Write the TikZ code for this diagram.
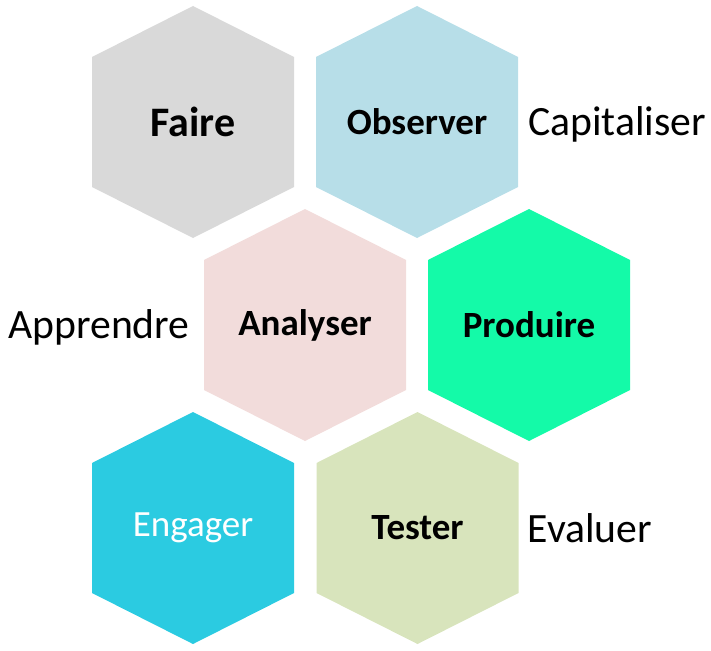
\documentclass[tikz,border=0pt]{standalone}
\usepackage{fontspec}
\setmainfont{Carlito}
\definecolor{cFaire}{HTML}{D9D9D9}
\definecolor{cObs}{HTML}{B7DEE8}
\definecolor{cAna}{HTML}{F2DCDB}
\definecolor{cProd}{HTML}{14FAA8}
\definecolor{cEng}{HTML}{2BCBE1}
\definecolor{cTest}{HTML}{D8E4BC}
\tikzset{
  lbl/.style={font=\fontsize{37}{41}\selectfont\bfseries, text=black},
  side/.style={font=\fontsize{41.7}{46}\selectfont, text=black},
}
\newcommand{\hexag}[4]{% cx, cy, color, name
  \fill[#3] (#1,#2-116) -- (#1+101,#2-65) -- (#1+101,#2+65) -- (#1,#2+116) -- (#1-101,#2+65) -- (#1-101,#2-65) -- cycle;
  \coordinate (#4) at (#1,#2);
}
\begin{document}
\begin{tikzpicture}[x=1pt,y=-1pt]
\useasboundingbox (0,0) rectangle (711,650);
\hexag{193}{122}{cFaire}{hf}
\hexag{417}{122}{cObs}{ho}
\hexag{305}{325}{cAna}{ha}
\hexag{529}{325}{cProd}{hp}
\hexag{193}{528}{cEng}{he}
\hexag{417.5}{528}{cTest}{ht}
\node[lbl, font=\fontsize{42}{46}\selectfont\bfseries] (faire) at (hf) {Faire};
\node[lbl] (obs) at (ho) {Observer};
\node[lbl] (ana) at (ha) {Analyser};
\node[lbl] (prod) at (hp) {Produire};
\node[lbl, font=\fontsize{37}{41}\selectfont, text=white] (eng) at (he) {Engager};
\node[lbl] (test) at (ht) {Tester};
\node[side] (cap) at (617,124) {Capitaliser};
\node[side] (app) at (99,327) {Apprendre};
\node[side] (eva) at (590,528) {Evaluer};
\end{tikzpicture}
\end{document}
